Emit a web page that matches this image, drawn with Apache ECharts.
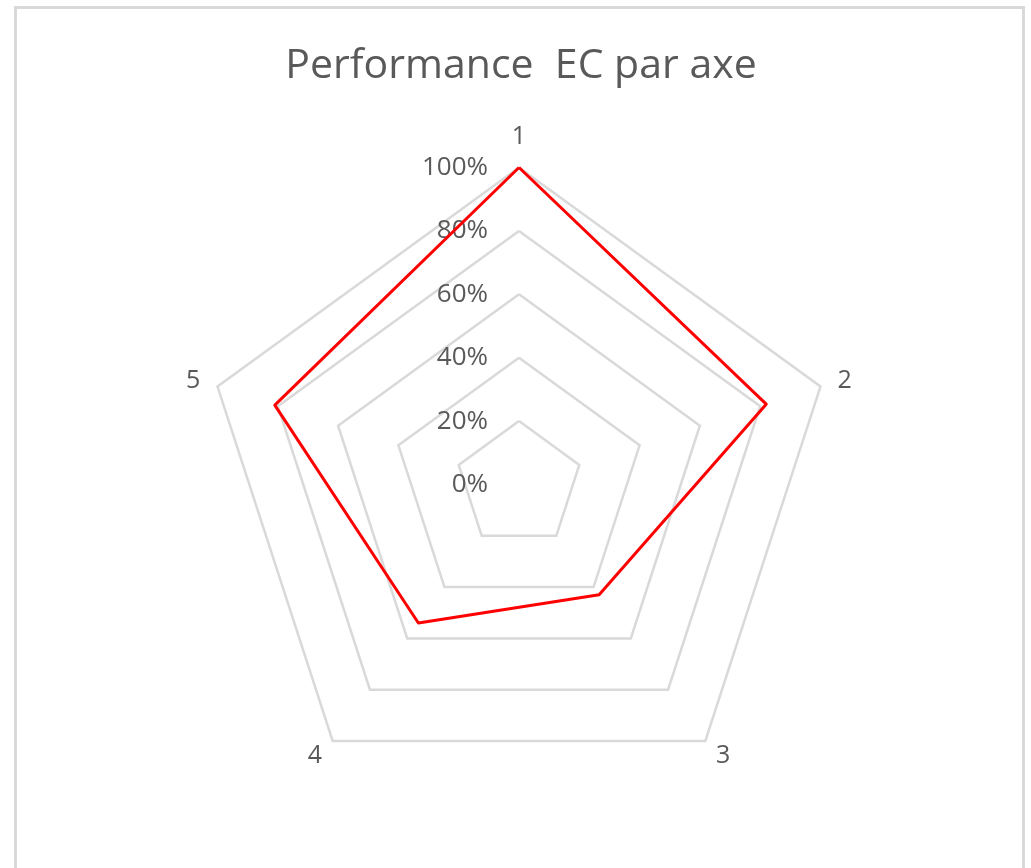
<!DOCTYPE html>
<html><head><meta charset="utf-8">
<script src="https://cdn.jsdelivr.net/npm/echarts@6/dist/echarts.min.js"></script>
<style>
html,body{margin:0;padding:0;background:#fff;overflow:hidden;width:1031px;height:868px}
#chart{position:absolute;left:0;top:0;width:1031px;height:868px}
#frame{position:absolute;left:14px;top:6px;width:1005px;height:900px;border:3px solid #d9d9d9;pointer-events:none}
</style></head><body>
<div id="chart"></div><div id="frame"></div>
<script>
const titleText = 'Performance  EC par axe';
const axisNames = ['1', '2', '3', '4', '5'];
const values = [100, 82, 43, 54, 81];
const tickLabels = ['0%', '20%', '40%', '60%', '80%', '100%'];
const axisMin = 0, axisMax = 100;

// ECharts lays radar axes counter-clockwise; the reference runs clockwise from the top.
const order = axisNames.map((_, i) => (axisNames.length - i) % axisNames.length);

const FONT = 'Open Sans';
const chart = echarts.init(document.getElementById('chart'), null, {renderer: 'canvas'});
chart.setOption({
  backgroundColor: '#ffffff',
  animation: false,
  title: {
    text: titleText,
    left: 516,
    textAlign: 'center',
    top: 41,
    textStyle: {color: '#595959', fontSize: 41, fontWeight: 'normal', fontFamily: FONT}
  },
  radar: {
    center: [519, 484.5],
    radius: 317,
    startAngle: 90,
    shape: 'polygon',
    splitNumber: tickLabels.length - 1,
    nameGap: 18,
    indicator: order.map((k, i) => ({
      name: axisNames[k], min: axisMin, max: axisMax,
      axisLabel: {show: i === 0}
    })),
    axisName: {color: '#595959', fontSize: 25, fontFamily: FONT},
    axisLine: {show: false},
    axisTick: {show: false},
    axisLabel: {
      show: false, color: '#595959', fontSize: 26, fontFamily: FONT, margin: 31,
      formatter: v => tickLabels[Math.round((v - axisMin) / ((axisMax - axisMin) / (tickLabels.length - 1)))]
    },
    splitLine: {lineStyle: {color: '#d9d9d9', width: 2.5}},
    splitArea: {show: false}
  },
  series: [{
    type: 'radar',
    symbol: 'none',
    lineStyle: {color: '#ff0000', width: 3},
    itemStyle: {color: '#ff0000'},
    data: [{value: order.map(k => values[k]), name: 'Performance'}]
  }]
});
</script>
</body></html>
